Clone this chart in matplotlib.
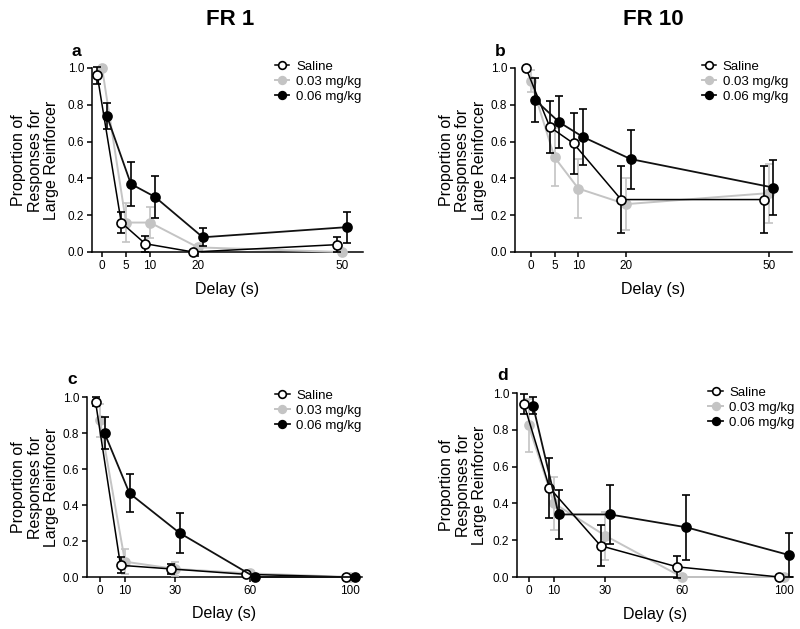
import matplotlib
matplotlib.use('Agg')
import matplotlib.pyplot as plt
import numpy as np

plt.rcParams.update({
    'font.family': ['Liberation Sans', 'DejaVu Sans'],
    'font.size': 9,
    'axes.linewidth': 1.1,
    'xtick.major.size': 3.5,
    'ytick.major.size': 3.5,
    'xtick.major.width': 1.1,
    'ytick.major.width': 1.1,
    'xtick.labelsize': 8.5,
    'ytick.labelsize': 8.5,
})

# ---- data ----
groups = ['Saline', '0.03 mg/kg', '0.06 mg/kg']

delays_top = [0, 5, 10, 20, 50]
delays_bottom = [0, 10, 30, 60, 100]

# panel a: FR 1, short delays
a_mean = {
    'Saline':     [0.96, 0.16, 0.045, 0.0, 0.04],
    '0.03 mg/kg': [1.00, 0.16, 0.16, 0.025, 0.0],
    '0.06 mg/kg': [0.74, 0.37, 0.30, 0.08, 0.135],
}
a_err = {
    'Saline':     [0.045, 0.057, 0.044, 0.0, 0.04],
    '0.03 mg/kg': [0.0, 0.105, 0.085, 0.01, 0.0],
    '0.06 mg/kg': [0.07, 0.12, 0.115, 0.05, 0.085],
}

# panel b: FR 10, short delays
b_mean = {
    'Saline':     [1.00, 0.68, 0.59, 0.285, 0.285],
    '0.03 mg/kg': [0.93, 0.515, 0.345, 0.26, 0.32],
    '0.06 mg/kg': [0.825, 0.705, 0.625, 0.505, 0.35],
}
b_err = {
    'Saline':     [0.0, 0.143, 0.165, 0.183, 0.183],
    '0.03 mg/kg': [0.06, 0.157, 0.158, 0.143, 0.16],
    '0.06 mg/kg': [0.12, 0.142, 0.15, 0.16, 0.15],
}

# panel c: FR 1, long delays
c_mean = {
    'Saline':     [0.975, 0.065, 0.045, 0.015, 0.0],
    '0.03 mg/kg': [0.87, 0.085, 0.045, 0.02, 0.0],
    '0.06 mg/kg': [0.80, 0.465, 0.245, 0.0, 0.0],
}
c_err = {
    'Saline':     [0.025, 0.045, 0.03, 0.0, 0.0],
    '0.03 mg/kg': [0.09, 0.07, 0.04, 0.015, 0.0],
    '0.06 mg/kg': [0.09, 0.105, 0.11, 0.0, 0.0],
}

# panel d: FR 10, long delays
d_mean = {
    'Saline':     [0.94, 0.485, 0.17, 0.055, 0.0],
    '0.03 mg/kg': [0.825, 0.40, 0.225, 0.0, 0.0],
    '0.06 mg/kg': [0.93, 0.34, 0.34, 0.27, 0.12],
}
d_err = {
    'Saline':     [0.053, 0.162, 0.11, 0.058, 0.0],
    '0.03 mg/kg': [0.144, 0.142, 0.13, 0.0, 0.0],
    '0.06 mg/kg': [0.046, 0.135, 0.16, 0.175, 0.12],
}

# ---- styles ----
GRAY = '#c4c4c4'
styles = {
    'Saline':     dict(color='black', mfc='white', mec='black', ecolor='black', lw=1.1),
    '0.03 mg/kg': dict(color=GRAY, mfc=GRAY, mec=GRAY, ecolor=GRAY, lw=1.4),
    '0.06 mg/kg': dict(color='#111111', mfc='black', mec='black', ecolor='black', lw=1.3),
}
zorders = {'Saline': 4, '0.03 mg/kg': 3, '0.06 mg/kg': 5}

W, H = 800, 629
fig = plt.figure(figsize=(W / 100, H / 100), dpi=100)


def px_axes(left, right, top, bottom):
    return fig.add_axes([left / W, (H - bottom) / H, (right - left) / W, (bottom - top) / H])


panels = [
    dict(box=(92, 363, 68, 252), xlim=(-2.1, 54.4), x=delays_top, mean=a_mean, err=a_err,
         shift=1.0, letter='a', ylab_x=-0.21, leg=(0.675, 1.04)),
    dict(box=(515, 792, 68, 252), xlim=(-3.3, 54.9), x=delays_top, mean=b_mean, err=b_err,
         shift=1.0, letter='b', ylab_x=-0.188, leg=(0.674, 1.04)),
    dict(box=(87, 362, 397, 577), xlim=(-5.2, 104.8), x=delays_bottom, mean=c_mean, err=c_err,
         shift=1.8, letter='c', ylab_x=-0.189, leg=(0.684, 1.04)),
    dict(box=(517, 793, 393, 577), xlim=(-4.5, 103.5), x=delays_bottom, mean=d_mean, err=d_err,
         shift=1.8, letter='d', ylab_x=-0.195, leg=(0.693, 1.035)),
]

for p in panels:
    ax = px_axes(*p['box'])
    offsets = {'Saline': -p['shift'], '0.03 mg/kg': 0.0, '0.06 mg/kg': p['shift']}
    for g in groups:
        st = styles[g]
        xs = np.array(p['x'], dtype=float) + offsets[g]
        eb = ax.errorbar(xs, p['mean'][g], yerr=p['err'][g], fmt='-o', color=st['color'],
                         lw=st['lw'], ms=6.5, mfc=st['mfc'], mec=st['mec'], mew=1.2,
                         ecolor=st['ecolor'], elinewidth=1.2, capsize=3, capthick=1.2,
                         label=g, zorder=zorders[g], clip_on=False)
        for artist in eb.lines[1] + eb.lines[2]:
            artist.set_clip_on(False)

    ax.set_xlim(*p['xlim'])
    ax.set_ylim(0, 1.0)
    ax.set_xticks(p['x'])
    ax.set_yticks([0.0, 0.2, 0.4, 0.6, 0.8, 1.0])
    ax.set_yticklabels(['0.0', '0.2', '0.4', '0.6', '0.8', '1.0'])
    ax.tick_params(axis='x', pad=2)
    ax.tick_params(axis='y', pad=2)
    ax.spines['top'].set_visible(False)
    ax.spines['right'].set_visible(False)

    ax.text(p['ylab_x'], 0.5, 'Proportion of\nResponses for\nLarge Reinforcer',
            transform=ax.transAxes, rotation=90, ha='center', va='center',
            multialignment='center', fontsize=11.5, linespacing=1.15)
    ax.text(0.5, -0.205, 'Delay (s)', transform=ax.transAxes, ha='center', va='center',
            fontsize=11.5)

    handles, labels = ax.get_legend_handles_labels()
    ax.legend([h[0] for h in handles], labels, loc='upper left', bbox_to_anchor=p['leg'],
              frameon=False, fontsize=9.5, handlelength=1.1, handletextpad=0.5,
              labelspacing=0.2, borderpad=0, borderaxespad=0, markerscale=0.85)

    left, right, top, bottom = p['box']
    fig.text((left - 20) / W, (H - top + 17) / H, p['letter'], fontsize=12.5,
             fontweight='bold', ha='left', va='center')

fig.text(230 / W, (H - 19.5) / H, 'FR 1', fontsize=16, fontweight='bold', ha='center', va='center')
fig.text(653 / W, (H - 19.5) / H, 'FR 10', fontsize=16, fontweight='bold', ha='center', va='center')

fig.savefig('out.png', dpi=100)
